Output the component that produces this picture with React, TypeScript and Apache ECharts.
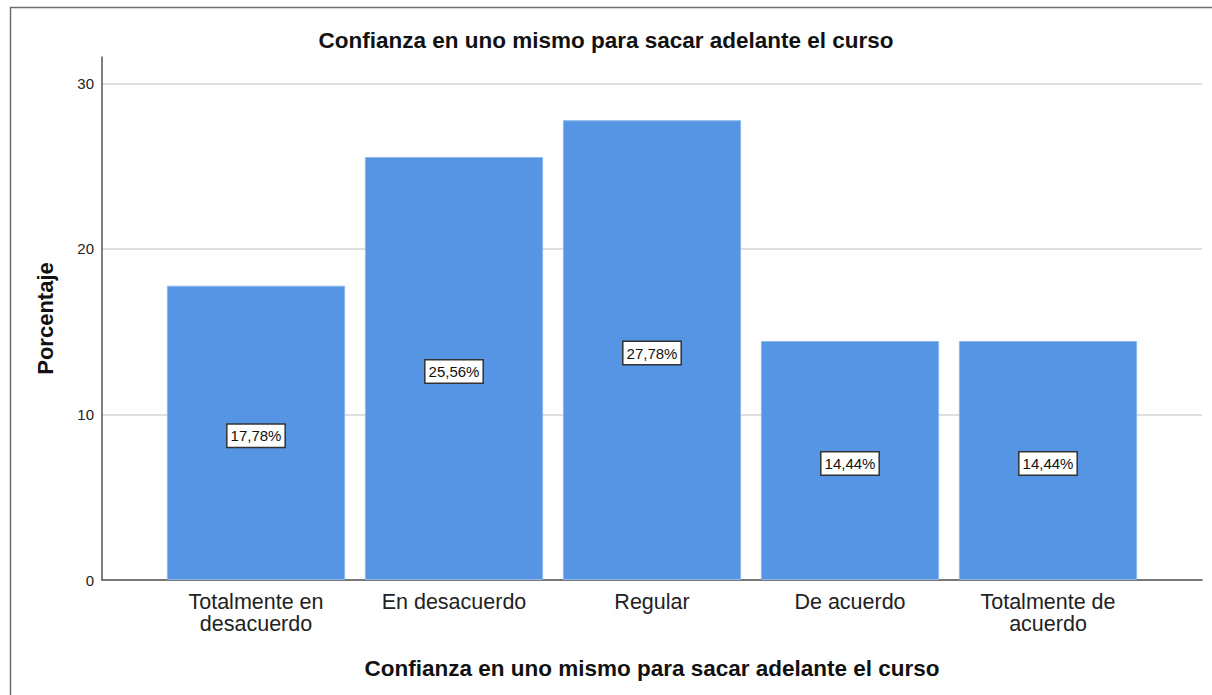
import React, { useEffect, useRef } from "react";
import * as echarts from "echarts";

const titleText = "Confianza en uno mismo para sacar adelante el curso";
const categories = [
  "Totalmente en\ndesacuerdo",
  "En desacuerdo",
  "Regular",
  "De acuerdo",
  "Totalmente de\nacuerdo",
];
const percentages = [17.78, 25.56, 27.78, 14.44, 14.44];
const yAxisName = "Porcentaje";
const xAxisName = "Confianza en uno mismo para sacar adelante el curso";
const yMin = 0;
const yMax = 31.6;
const yInterval = 10;

const FONT = "'Liberation Sans', Arial, sans-serif";

export default function App() {
  const ref = useRef<HTMLDivElement>(null);
  useEffect(() => {
    if (!ref.current) return;
    const chart = echarts.init(ref.current, undefined, { renderer: "svg" });
    chart.setOption({
      animation: false,
      backgroundColor: "#ffffff",
      textStyle: { fontFamily: FONT },
      title: {
        text: titleText,
        left: "center",
        top: 24,
        textStyle: { fontFamily: FONT, fontSize: 22.5, fontWeight: "bold", color: "#111" },
      },
      graphic: [
        {
          type: "rect",
          shape: { x: 10.5, y: 7.5, width: 1300, height: 800 },
          style: { fill: "none", stroke: "#6e6e6e", lineWidth: 1.5 },
          silent: true,
        },
      ],
      grid: [
        { left: 102, right: 10, top: 57, bottom: 115 },
        { left: 157, right: 65, top: 57, bottom: 115 },
      ],
      xAxis: [
        {
          gridIndex: 0,
          type: "value",
          min: 0,
          max: 1,
          axisLine: { show: true, lineStyle: { color: "#555", width: 1.5 } },
          axisTick: { show: false },
          axisLabel: { show: false },
          splitLine: { show: false },
          name: xAxisName,
          nameLocation: "middle",
          nameGap: 77,
          nameTextStyle: { fontFamily: FONT, fontSize: 22.5, fontWeight: "bold", color: "#111" },
        },
        {
          gridIndex: 1,
          type: "category",
          data: categories,
          axisLine: { show: false },
          axisTick: { show: false },
          axisLabel: {
            interval: 0,
            margin: 11,
            fontFamily: FONT,
            fontSize: 21.5,
            lineHeight: 22,
            color: "#222",
          },
        },
      ],
      yAxis: [
        {
          gridIndex: 0,
          type: "value",
          min: yMin,
          max: yMax,
          interval: yInterval,
          axisLine: { show: true, lineStyle: { color: "#555", width: 1.5 } },
          axisTick: { show: false },
          axisLabel: {
            showMaxLabel: false,
            margin: 8,
            fontFamily: FONT,
            fontSize: 15,
            color: "#222",
          },
          splitLine: { show: true, showMaxLine: false, lineStyle: { color: "#d4d4d4", width: 1.5 } },
          name: yAxisName,
          nameLocation: "middle",
          nameGap: 46,
          nameTextStyle: { fontFamily: FONT, fontSize: 22, fontWeight: "bold", color: "#111" },
        },
        {
          gridIndex: 1,
          type: "value",
          min: yMin,
          max: yMax,
          interval: yInterval,
          show: false,
          splitLine: { show: false },
        },
      ],
      series: [
        {
          type: "bar",
          xAxisIndex: 1,
          yAxisIndex: 1,
          data: percentages,
          barCategoryGap: "10%",
          itemStyle: { color: "#5595e3", borderColor: "#8db8ec", borderWidth: 1 },
          label: {
            show: true,
            position: "inside",
            offset: [0, 3],
            formatter: (p: any) => p.value.toFixed(2).replace(".", ",") + "%",
            fontFamily: FONT,
            fontSize: 15,
            color: "#111",
            backgroundColor: "#ffffff",
            borderColor: "#333",
            borderWidth: 1.5,
            padding: [4, 3, 3, 3],
          },
        },
      ],
    });
    return () => chart.dispose();
  }, []);
  return (
    <div
      ref={ref}
      style={{ position: "fixed", left: 0, top: 0, width: 1212, height: 695 }}
    />
  );
}
